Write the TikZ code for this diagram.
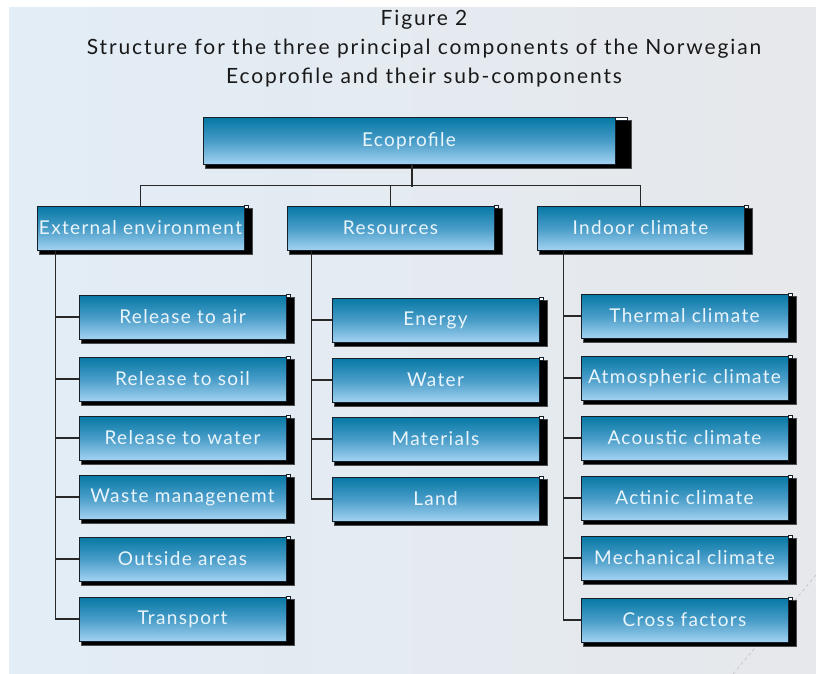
\documentclass[tikz,border=0pt]{standalone}
\usepackage{fontspec}
\setmainfont{Lato}
\newfontfamily\titlefont[LetterSpace=9]{Lato}
\newfontfamily\boxfont[LetterSpace=7]{Lato}
\usetikzlibrary{calc,backgrounds}

\definecolor{boxtop}{RGB}{6,120,164}
\definecolor{boxmid}{RGB}{72,156,200}
\definecolor{boxbot}{RGB}{162,210,240}
\definecolor{edgec}{RGB}{22,32,42}
\definecolor{labelc}{RGB}{234,245,251}
\definecolor{panell}{RGB}{226,237,246}
\definecolor{panelr}{RGB}{230,232,235}
\definecolor{connc}{RGB}{40,40,40}

\tikzset{
  ebox/.style={draw=edgec, line width=1pt, top color=boxtop, bottom color=boxbot,
    middle color=boxmid, text=labelc, minimum width=207pt, minimum height=44pt,
    inner sep=0pt, font=\boxfont\fontsize{19}{21}\selectfont},
  conn/.style={draw=connc, line width=1.1pt},
  shadowbox/.style={fill=black, draw=gray!60!black, line width=0.4pt},
  notch/.style={fill=white, draw=edgec, line width=0.6pt}
}

% shadow behind a box: #1 node name, #2 width of the right strip
\newcommand\boxshadow[2]{%
  \path[shadowbox] ($(#1.south west)+(3,4)$) rectangle ($(#1.north east)+(#2+4,3)$);}
\newcommand\boxnotch[2]{%
  \path[notch] (#1.north east) rectangle ($(#1.north east)+(#2,3)$);}

\begin{document}
\begin{tikzpicture}[x=1pt,y=-1pt]
\useasboundingbox (0,0) rectangle (816,674);
\begin{scope}[on background layer]
  \fill[white] (0,0) rectangle (816,674);
  \shade[left color=panell, right color=panelr] (9,8) rectangle (816,674);
  \draw[gray!55, dashed, line width=0.5pt] (816,575) -- (733,674);
\end{scope}

% title
\node[font=\titlefont\fontsize{21}{29}\selectfont, align=center, text=black!90] (title) at (424,49)
  {Figure 2\\Structure for the three principal components of the Norwegian\\Ecoprofile and their sub-components};

% top level
\node[ebox, minimum width=412pt, minimum height=46pt] (eco) at (409,141) {Ecoprofile};
\node[ebox] (ext) at (140.5,228) {External environment};
\node[ebox] (res) at (390.5,228) {Resources};
\node[ebox] (ind) at (640.5,228) {Indoor climate};

% external environment
\node[ebox] (e1) at (182.5,317) {Release to air};
\node[ebox] (e2) at (182.5,379) {Release to soil};
\node[ebox] (e3) at (182.5,438) {Release to water};
\node[ebox] (e4) at (182.5,497) {Waste managenemt};
\node[ebox] (e5) at (182.5,559) {Outside areas};
\node[ebox] (e6) at (182.5,619) {Transport};

% resources
\node[ebox] (r1) at (435.5,320) {Energy};
\node[ebox] (r2) at (435.5,380) {Water};
\node[ebox] (r3) at (435.5,439) {Materials};
\node[ebox] (r4) at (435.5,499) {Land};

% indoor climate
\node[ebox] (i1) at (684.5,316) {Thermal climate};
\node[ebox] (i2) at (684.5,378) {Atmospheric climate};
\node[ebox] (i3) at (684.5,438) {Acoustic climate};
\node[ebox] (i4) at (684.5,498) {Actinic climate};
\node[ebox] (i5) at (684.5,558) {Mechanical climate};
\node[ebox] (i6) at (684.5,620) {Cross factors};

% shadows and corner notches
\begin{scope}[on background layer]
  \boxshadow{eco}{12}
  \foreach \n in {ext,res,ind,e1,e2,e3,e4,e5,e6,r1,r2,r3,r4,i1,i2,i3,i4,i5,i6}
    {\boxshadow{\n}{4}}
\end{scope}
\boxnotch{eco}{12}
\foreach \n in {ext,res,ind,e1,e2,e3,e4,e5,e6,r1,r2,r3,r4,i1,i2,i3,i4,i5,i6}
  {\boxnotch{\n}{4}}

% connectors: top bus
\draw[conn] ($(eco.south)+(3,0)$) -- ++(0,22);
\draw[conn] (ext.north) -- ++(0,-20) -| (ind.north);
\draw[conn] (res.north) -- ++(0,-20);

% connectors: branches
\coordinate (es) at ($(ext.south west)+(19,0)$);
\coordinate (rs) at ($(res.south west)+(25,0)$);
\coordinate (is) at ($(ind.south west)+(27,0)$);
\draw[conn] (es) |- (e6.west);
\foreach \k in {1,...,5} {\draw[conn] (es |- e\k.west) -- (e\k.west);}
\draw[conn] (rs) |- (r4.west);
\foreach \k in {1,...,3} {\draw[conn] (rs |- r\k.west) -- (r\k.west);}
\draw[conn] (is) |- (i6.west);
\foreach \k in {1,...,5} {\draw[conn] (is |- i\k.west) -- (i\k.west);}
\end{tikzpicture}
\end{document}
